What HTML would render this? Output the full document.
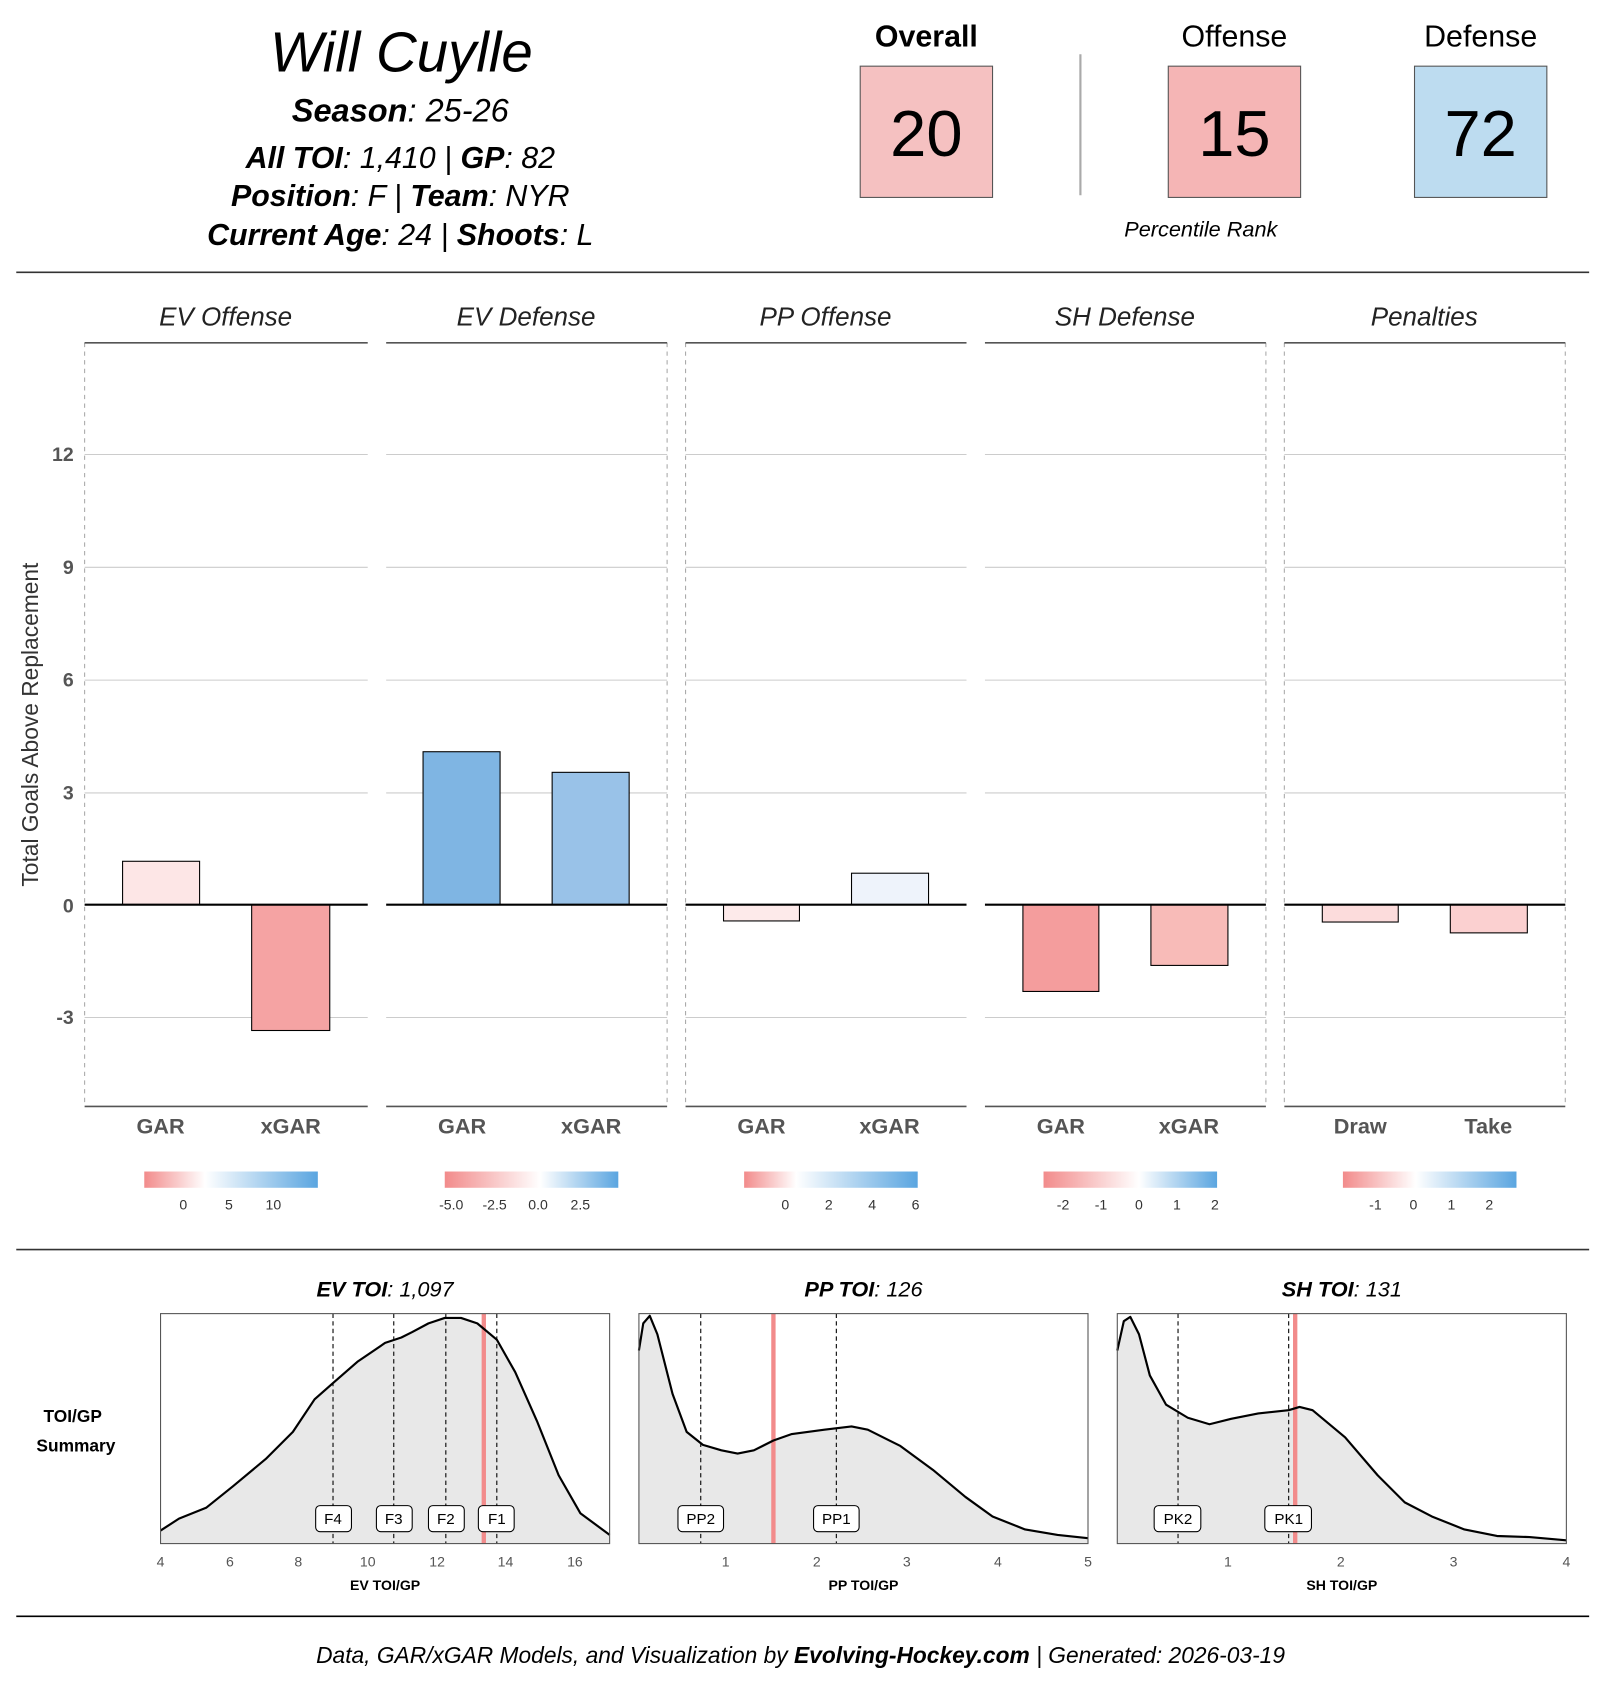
<!DOCTYPE html>
<html><head><meta charset="utf-8"><style>html,body{margin:0;padding:0;background:#fff;}svg{display:block;}</style></head>
<body>
<svg width="1600" height="1700" viewBox="0 0 1475 1567.2" preserveAspectRatio="none" xmlns="http://www.w3.org/2000/svg" font-family="Liberation Sans, sans-serif">
<defs>
<linearGradient id="g1" x1="0" x2="1"><stop offset="0" stop-color="#f28b8b"/><stop offset="0.35" stop-color="#fff"/><stop offset="1" stop-color="#5aa5e0"/></linearGradient>
<linearGradient id="g2" x1="0" x2="1"><stop offset="0" stop-color="#f28b8b"/><stop offset="0.55" stop-color="#fff"/><stop offset="1" stop-color="#5aa5e0"/></linearGradient>
<linearGradient id="g3" x1="0" x2="1"><stop offset="0" stop-color="#f28b8b"/><stop offset="0.3" stop-color="#fff"/><stop offset="1" stop-color="#5aa5e0"/></linearGradient>
<linearGradient id="g4" x1="0" x2="1"><stop offset="0" stop-color="#f28b8b"/><stop offset="0.55" stop-color="#fff"/><stop offset="1" stop-color="#5aa5e0"/></linearGradient>
<linearGradient id="g5" x1="0" x2="1"><stop offset="0" stop-color="#f28b8b"/><stop offset="0.42" stop-color="#fff"/><stop offset="1" stop-color="#5aa5e0"/></linearGradient>
</defs>
<rect width="1480" height="1572.5" fill="#fff"/>
<g font-style="italic" text-anchor="middle" fill="#000">
<text x="370" y="66" font-size="52">Will Cuylle</text>
<text x="369" y="112" font-size="30"><tspan font-weight="bold">Season</tspan>: 25-26</text>
<text x="369" y="155" font-size="28"><tspan font-weight="bold">All TOI</tspan>: 1,410 | <tspan font-weight="bold">GP</tspan>: 82</text>
<text x="369" y="190" font-size="28"><tspan font-weight="bold">Position</tspan>: F | <tspan font-weight="bold">Team</tspan>: NYR</text>
<text x="369" y="226" font-size="28"><tspan font-weight="bold">Current Age</tspan>: 24 | <tspan font-weight="bold">Shoots</tspan>: L</text>
</g>
<g text-anchor="middle">
<text x="854" y="43" font-size="28" font-weight="bold">Overall</text>
<text x="1138" y="43" font-size="28">Offense</text>
<text x="1365" y="43" font-size="28">Defense</text>
<rect x="793" y="61" width="122" height="121" fill="#f5c1c1" stroke="#555"/>
<rect x="1077" y="61" width="122" height="121" fill="#f5b5b5" stroke="#555"/>
<rect x="1304" y="61" width="122" height="121" fill="#bddcf0" stroke="#555"/>
<text x="854" y="144" font-size="60">20</text>
<text x="1138" y="144" font-size="60">15</text>
<text x="1365" y="144" font-size="60">72</text>
<text x="1107" y="218" font-size="20" font-style="italic">Percentile Rank</text>
</g>
<line x1="996" y1="50" x2="996" y2="180" stroke="#aaa" stroke-width="2"/>
<line x1="15" y1="251" x2="1465" y2="251" stroke="#333" stroke-width="1.5"/>
<g font-size="18" font-weight="bold" fill="#555" text-anchor="end">
<text x="68" y="425">12</text><text x="68" y="529">9</text><text x="68" y="633">6</text><text x="68" y="737">3</text><text x="68" y="841">0</text><text x="68" y="944">-3</text>
</g>
<text transform="translate(35,668) rotate(-90)" text-anchor="middle" font-size="21" fill="#333">Total Goals Above Replacement</text>
<g stroke="#ccc" stroke-width="1">
<line x1="78" x2="339" y1="419" y2="419"/><line x1="78" x2="339" y1="523" y2="523"/><line x1="78" x2="339" y1="627" y2="627"/><line x1="78" x2="339" y1="731" y2="731"/><line x1="78" x2="339" y1="938" y2="938"/>
<line x1="356" x2="615" y1="419" y2="419"/><line x1="356" x2="615" y1="523" y2="523"/><line x1="356" x2="615" y1="627" y2="627"/><line x1="356" x2="615" y1="731" y2="731"/><line x1="356" x2="615" y1="938" y2="938"/>
<line x1="632" x2="891" y1="419" y2="419"/><line x1="632" x2="891" y1="523" y2="523"/><line x1="632" x2="891" y1="627" y2="627"/><line x1="632" x2="891" y1="731" y2="731"/><line x1="632" x2="891" y1="938" y2="938"/>
<line x1="908" x2="1167" y1="419" y2="419"/><line x1="908" x2="1167" y1="523" y2="523"/><line x1="908" x2="1167" y1="627" y2="627"/><line x1="908" x2="1167" y1="731" y2="731"/><line x1="908" x2="1167" y1="938" y2="938"/>
<line x1="1184" x2="1443" y1="419" y2="419"/><line x1="1184" x2="1443" y1="523" y2="523"/><line x1="1184" x2="1443" y1="627" y2="627"/><line x1="1184" x2="1443" y1="731" y2="731"/><line x1="1184" x2="1443" y1="938" y2="938"/>
</g>
<g stroke="#aaa" stroke-dasharray="4,4">
<line x1="78" x2="78" y1="316" y2="1020"/><line x1="615" x2="615" y1="316" y2="1020"/><line x1="632" x2="632" y1="316" y2="1020"/><line x1="1167" x2="1167" y1="316" y2="1020"/><line x1="1184" x2="1184" y1="316" y2="1020"/><line x1="1443" x2="1443" y1="316" y2="1020"/>
</g>
<g stroke="#555" stroke-width="1.5">
<line x1="78" x2="339" y1="316" y2="316"/><line x1="356" x2="615" y1="316" y2="316"/><line x1="632" x2="891" y1="316" y2="316"/><line x1="908" x2="1167" y1="316" y2="316"/><line x1="1184" x2="1443" y1="316" y2="316"/>
<line x1="78" x2="339" y1="1020" y2="1020"/><line x1="356" x2="615" y1="1020" y2="1020"/><line x1="632" x2="891" y1="1020" y2="1020"/><line x1="908" x2="1167" y1="1020" y2="1020"/><line x1="1184" x2="1443" y1="1020" y2="1020"/>
</g>
<g font-size="24" font-style="italic" text-anchor="middle" fill="#222">
<text x="208" y="300">EV Offense</text><text x="485" y="300">EV Defense</text><text x="761" y="300">PP Offense</text><text x="1037" y="300">SH Defense</text><text x="1313" y="300">Penalties</text>
</g>
<g stroke="#000" stroke-width="1">
<rect x="113" y="794" width="71" height="40" fill="#fde6e6"/>
<rect x="232" y="834" width="72" height="116" fill="#f5a3a3"/>
<rect x="390" y="693" width="71" height="141" fill="#7fb5e3"/>
<rect x="509" y="712" width="71" height="122" fill="#99c2e8"/>
<rect x="667" y="834" width="70" height="15" fill="#fdeaea"/>
<rect x="785" y="805" width="71" height="29" fill="#eef3fb"/>
<rect x="943" y="834" width="70" height="80" fill="#f49d9d"/>
<rect x="1061" y="834" width="71" height="56" fill="#f8bbb8"/>
<rect x="1219" y="834" width="70" height="16" fill="#fcdcdc"/>
<rect x="1337" y="834" width="71" height="26" fill="#fbd0d0"/>
</g>
<g stroke="#000" stroke-width="2">
<line x1="78" x2="339" y1="834" y2="834"/><line x1="356" x2="615" y1="834" y2="834"/><line x1="632" x2="891" y1="834" y2="834"/><line x1="908" x2="1167" y1="834" y2="834"/><line x1="1184" x2="1443" y1="834" y2="834"/>
</g>
<g font-size="20" font-weight="bold" fill="#555" text-anchor="middle">
<text x="148" y="1045">GAR</text><text x="268" y="1045">xGAR</text>
<text x="426" y="1045">GAR</text><text x="545" y="1045">xGAR</text>
<text x="702" y="1045">GAR</text><text x="820" y="1045">xGAR</text>
<text x="978" y="1045">GAR</text><text x="1096" y="1045">xGAR</text>
<text x="1254" y="1045">Draw</text><text x="1372" y="1045">Take</text>
</g>
<rect x="133" y="1080" width="160" height="15" fill="url(#g1)"/>
<rect x="410" y="1080" width="160" height="15" fill="url(#g2)"/>
<rect x="686" y="1080" width="160" height="15" fill="url(#g3)"/>
<rect x="962" y="1080" width="160" height="15" fill="url(#g4)"/>
<rect x="1238" y="1080" width="160" height="15" fill="url(#g5)"/>
<g font-size="13" fill="#333" text-anchor="middle">
<text x="169" y="1115">0</text><text x="211" y="1115">5</text><text x="252" y="1115">10</text>
<text x="416" y="1115">-5.0</text><text x="456" y="1115">-2.5</text><text x="496" y="1115">0.0</text><text x="535" y="1115">2.5</text>
<text x="724" y="1115">0</text><text x="764" y="1115">2</text><text x="804" y="1115">4</text><text x="844" y="1115">6</text>
<text x="980" y="1115">-2</text><text x="1015" y="1115">-1</text><text x="1050" y="1115">0</text><text x="1085" y="1115">1</text><text x="1120" y="1115">2</text>
<text x="1268" y="1115">-1</text><text x="1303" y="1115">0</text><text x="1338" y="1115">1</text><text x="1373" y="1115">2</text>
</g>
<line x1="15" y1="1152" x2="1465" y2="1152" stroke="#333" stroke-width="1.5"/>
<g font-size="20" font-style="italic" text-anchor="middle">
<text x="355" y="1195"><tspan font-weight="bold">EV TOI</tspan>: 1,097</text>
<text x="796" y="1195"><tspan font-weight="bold">PP TOI</tspan>: 126</text>
<text x="1237" y="1195"><tspan font-weight="bold">SH TOI</tspan>: 131</text>
</g>
<g font-size="16" font-weight="bold" text-anchor="middle"><text x="67" y="1311">TOI/GP</text><text x="70" y="1338">Summary</text></g>
<g fill="#e8e8e8" stroke="none">
<polygon points="148,1423 148,1411 165,1400 190,1390 215,1370 245,1345 270,1320 290,1290 307,1275 330,1255 355,1238 370,1233 380,1228 395,1220 410,1215 425,1215 440,1220 458,1235 475,1265 495,1310 515,1360 535,1395 562,1415 562,1423"/>
<polygon points="589,1423 589,1245 593,1220 599,1213 606,1230 620,1285 633,1320 648,1332 665,1337 680,1340 695,1337 713,1328 730,1322 760,1318 785,1315 800,1318 830,1333 860,1355 890,1380 915,1398 945,1410 975,1415 1003,1418 1003,1423"/>
<polygon points="1030,1423 1030,1245 1036,1218 1042,1214 1050,1230 1060,1268 1075,1295 1095,1307 1115,1313 1135,1308 1160,1303 1188,1300 1198,1297 1210,1300 1240,1325 1270,1360 1295,1385 1320,1398 1350,1410 1380,1416 1410,1417 1444,1420 1444,1423"/>
</g>
<g stroke="#000" stroke-dasharray="4,3" stroke-width="1">
<line x1="307" x2="307" y1="1211" y2="1423"/><line x1="363" x2="363" y1="1211" y2="1423"/><line x1="411" x2="411" y1="1211" y2="1423"/><line x1="458" x2="458" y1="1211" y2="1423"/>
<line x1="646" x2="646" y1="1211" y2="1423"/><line x1="771" x2="771" y1="1211" y2="1423"/>
<line x1="1086" x2="1086" y1="1211" y2="1423"/><line x1="1188" x2="1188" y1="1211" y2="1423"/>
</g>
<g stroke="#f28b8b" stroke-width="4">
<line x1="446" x2="446" y1="1211" y2="1423"/><line x1="713" x2="713" y1="1211" y2="1423"/><line x1="1194" x2="1194" y1="1211" y2="1423"/>
</g>
<g fill="none" stroke="#000" stroke-width="2" stroke-linejoin="round">
<polyline points="148,1411 165,1400 190,1390 215,1370 245,1345 270,1320 290,1290 307,1275 330,1255 355,1238 370,1233 380,1228 395,1220 410,1215 425,1215 440,1220 458,1235 475,1265 495,1310 515,1360 535,1395 562,1415"/>
<polyline points="589,1245 593,1220 599,1213 606,1230 620,1285 633,1320 648,1332 665,1337 680,1340 695,1337 713,1328 730,1322 760,1318 785,1315 800,1318 830,1333 860,1355 890,1380 915,1398 945,1410 975,1415 1003,1418"/>
<polyline points="1030,1245 1036,1218 1042,1214 1050,1230 1060,1268 1075,1295 1095,1307 1115,1313 1135,1308 1160,1303 1188,1300 1198,1297 1210,1300 1240,1325 1270,1360 1295,1385 1320,1398 1350,1410 1380,1416 1410,1417 1444,1420"/>
</g>
<g fill="none" stroke="#555" stroke-width="1">
<rect x="148" y="1211" width="414" height="212"/><rect x="589" y="1211" width="414" height="212"/><rect x="1030" y="1211" width="414" height="212"/>
</g>
<g fill="#fff" stroke="#000" stroke-width="1">
<rect x="291" y="1388" width="33" height="24" rx="4"/><rect x="347" y="1388" width="33" height="24" rx="4"/><rect x="395" y="1388" width="33" height="24" rx="4"/><rect x="441" y="1388" width="33" height="24" rx="4"/>
<rect x="625" y="1388" width="42" height="24" rx="4"/><rect x="750" y="1388" width="42" height="24" rx="4"/>
<rect x="1064" y="1388" width="43" height="24" rx="4"/><rect x="1166" y="1388" width="43" height="24" rx="4"/>
</g>
<g font-size="14" text-anchor="middle">
<text x="307" y="1405">F4</text><text x="363" y="1405">F3</text><text x="411" y="1405">F2</text><text x="458" y="1405">F1</text>
<text x="646" y="1405">PP2</text><text x="771" y="1405">PP1</text>
<text x="1086" y="1405">PK2</text><text x="1188" y="1405">PK1</text>
</g>
<g font-size="13" fill="#555" text-anchor="middle">
<text x="148" y="1444">4</text><text x="212" y="1444">6</text><text x="275" y="1444">8</text><text x="339" y="1444">10</text><text x="403" y="1444">12</text><text x="466" y="1444">14</text><text x="530" y="1444">16</text>
<text x="669" y="1444">1</text><text x="753" y="1444">2</text><text x="836" y="1444">3</text><text x="920" y="1444">4</text><text x="1003" y="1444">5</text>
<text x="1132" y="1444">1</text><text x="1236" y="1444">2</text><text x="1340" y="1444">3</text><text x="1444" y="1444">4</text>
</g>
<g font-size="13" font-weight="bold" text-anchor="middle">
<text x="355" y="1466">EV TOI/GP</text><text x="796" y="1466">PP TOI/GP</text><text x="1237" y="1466">SH TOI/GP</text>
</g>
<line x1="15" y1="1490" x2="1465" y2="1490" stroke="#000" stroke-width="1.5"/>
<text x="738" y="1533" font-size="21" font-style="italic" text-anchor="middle">Data, GAR/xGAR Models, and Visualization by <tspan font-weight="bold">Evolving-Hockey.com</tspan> | Generated: 2026-03-19</text>
</svg>
</body></html>
